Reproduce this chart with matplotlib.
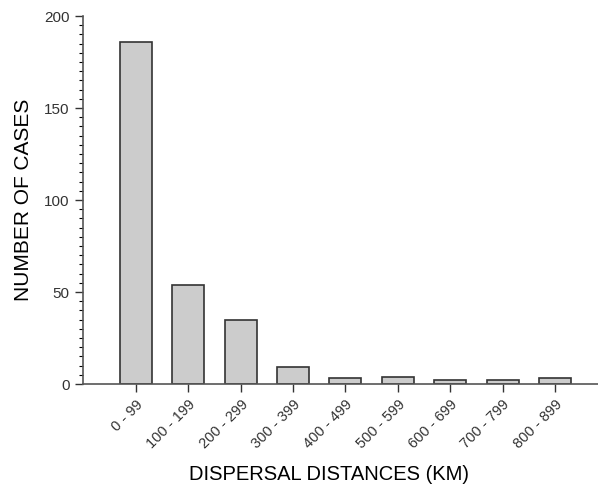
import matplotlib.pyplot as plt
from matplotlib.ticker import MultipleLocator

plt.rcParams['font.family'] = ['Liberation Sans', 'DejaVu Sans']

categories = ['0 - 99', '100 - 199', '200 - 299', '300 - 399', '400 - 499',
              '500 - 599', '600 - 699', '700 - 799', '800 - 899']
cases = [186, 54, 35, 9, 3, 4, 2, 2, 3]

fig = plt.figure(figsize=(5.98, 4.84), dpi=100)
ax = fig.add_axes([83 / 598, 1 - 384 / 484, 1 - 83 / 598, (384 - 16) / 484])

x = range(len(categories))
ax.bar(x, cases, width=0.61, color='#cccccc', edgecolor='#333333', linewidth=1.2)

ax.set_xlim(-1.01, 8.82)
ax.set_ylim(0, 200)
ax.yaxis.set_major_locator(MultipleLocator(50))
ax.yaxis.set_minor_locator(MultipleLocator(5))

ax.set_xticks(list(x))
ax.set_xticklabels(categories, rotation=45, ha='right', rotation_mode='anchor',
                   fontsize=10.5, color='#333333')
ax.tick_params(axis='y', labelsize=11, colors='#333333', length=6, width=1)
ax.tick_params(axis='y', which='minor', length=3, width=0.8)
ax.tick_params(axis='x', length=6, width=1, colors='#333333')

for side in ['top', 'right']:
    ax.spines[side].set_visible(False)
for side in ['left', 'bottom']:
    ax.spines[side].set_color('#555555')
    ax.spines[side].set_linewidth(1.2)

ax.set_ylabel('NUMBER OF CASES', fontsize=15, labelpad=8)
ax.set_xlabel('DISPERSAL DISTANCES (KM)', fontsize=14.5, labelpad=12)
ax.xaxis.set_label_coords(0.478, -0.22)

fig.savefig('out.png', dpi=100)
